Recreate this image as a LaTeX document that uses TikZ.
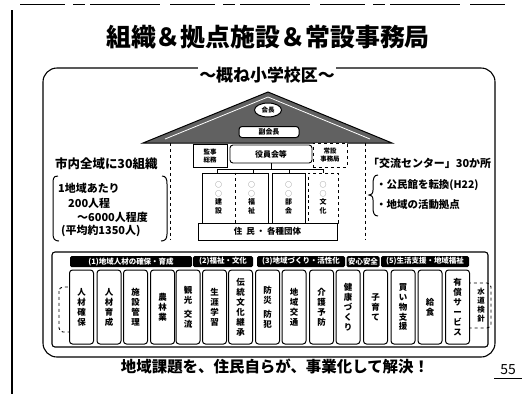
\documentclass[tikz,border=0pt]{standalone}
\usepackage{fontspec}
\setmainfont{Noto Sans CJK JP}
\usetikzlibrary{shapes.geometric}
\newcommand{\gcirc}{\textcolor{black!45}{○}}
\begin{document}
\begin{tikzpicture}[x=1bp,y=-1bp,
  frame/.style={draw,line width=1.1bp},
  vbox/.style={draw,line width=1bp,rounded corners=3bp,fill=white,minimum width=24bp,minimum height=74bp,inner sep=0pt,align=center,font=\fontsize{8.5}{10}\selectfont\bfseries},
  dbox/.style={draw,dashed,line width=0.9bp,rounded corners=4bp},
  hbar/.style={fill=black,rounded corners=1.5bp,text=white,inner sep=1pt,font=\fontsize{7.5}{8}\selectfont\bfseries,minimum height=11bp},
  hbox/.style={draw,line width=0.9bp,fill=white,inner sep=1pt,align=center,font=\fontsize{6.5}{7.5}\selectfont\bfseries},
  col/.style={draw,line width=1bp,fill=white},
  ctext/.style={align=center,font=\fontsize{7}{8.5}\selectfont\bfseries},
  lbl/.style={font=\fontsize{11}{12}\selectfont\bfseries,anchor=west,inner sep=0pt}
]
\useasboundingbox (0,0) rectangle (526,394);
% slide borders
\draw[line width=0.7bp,dash pattern=on 45bp off 8bp on 12bp off 5bp on 70bp off 10bp] (20,4) -- (505,4);
\draw[line width=1.1bp] (12,10) -- (12,394);
% title
\node[font=\fontsize{25}{27}\selectfont\bfseries] (title) at (268,37) {組織＆拠点施設＆常設事務局};
% outer frame
\draw[frame,rounded corners=14bp] (43,68) rectangle (495,357);
\node[font=\fontsize{17}{18}\selectfont\bfseries,fill=white,inner sep=1pt] (sub) at (267,75) {〜概ね小学校区〜};
% house walls
\draw[dashed,line width=0.9bp] (170,143) -- (170,240);
\draw[dashed,line width=0.9bp] (365,143) -- (365,240);
% roof
\path[fill=black!62,draw=black,line width=1bp] (143,143) -- (268,92) -- (392,143) -- cycle;
\draw[white,line width=0.8bp] (165,139) -- (268,97) -- (370,139);
\node[draw,ellipse,fill=white,line width=1bp,inner sep=0.5pt,minimum width=27bp,minimum height=14bp,font=\fontsize{6.5}{7}\selectfont\bfseries] (kaicho) at (268,110) {会長};
\node[draw,rounded corners=3bp,fill=white,line width=1bp,minimum width=60bp,minimum height=11bp,inner sep=0pt,font=\fontsize{7}{8}\selectfont\bfseries] (fuku) at (269,132) {副会長};
% under roof boxes
\node[hbox,minimum width=34bp,minimum height=23bp] (kanji) at (210,156) {監事\\総務};
\node[hbox,rounded corners=3bp,minimum width=82bp,minimum height=18bp,font=\fontsize{8}{9}\selectfont\bfseries] (yakuin) at (271,154) {役員会等};
\node[hbox,dashed,minimum width=34bp,minimum height=24bp] (jimu) at (330,155) {常設\\事務局};
% column boxes
\node[col,minimum width=66bp,minimum height=50bp,inner sep=0pt] (colA) at (235,198) {};
\node[col,minimum width=33bp,minimum height=50bp,inner sep=0pt] (colB) at (288.5,198) {};
\node[col,dashed,minimum width=30bp,minimum height=50bp,inner sep=0pt] (colC) at (323,198) {};
\draw[dashed,line width=0.7bp] (colA.north) -- (colA.south);
\node[ctext] (tA1) at (218.5,198) {\gcirc\\\gcirc\\建\\設};
\node[ctext] (tA2) at (251.5,198) {\gcirc\\\gcirc\\福\\祉};
\node[ctext] (tB) at (colB) {\gcirc\\\gcirc\\部\\会};
\node[ctext] (tC) at (colC) {\gcirc\\\gcirc\\文\\化};
% connectors
\coordinate (j) at (271,169);
\draw[line width=0.9bp] (yakuin.south) -- (j);
\draw[line width=0.9bp] (217,169) -- (323,169);
\draw[line width=0.9bp] (217,169) -- (217,173);
\draw[line width=0.9bp] (253,169) -- (253,173);
\draw[line width=0.9bp] (289,169) -- (289,173);
\draw[line width=0.9bp] (323,169) -- (323,173);
% residents
\node[draw,line width=1bp,fill=white,minimum width=139bp,minimum height=17bp,inner sep=0pt,font=\fontsize{8.5}{9}\selectfont\bfseries] (jumin) at (267.5,231.5) {住\ \ 民\ ・\ 各種団体};
% left text
\node[lbl,font=\fontsize{12.5}{13}\selectfont\bfseries] (l0) at (55,164) {市内全域に30組織};
\node[lbl] (l1) at (58,188) {1地域あたり};
\node[lbl] (l2) at (68,203) {200人程};
\node[lbl] (l3) at (77,217) {〜6000人程度};
\node[lbl] (l4) at (61,231) {(平均約1350人)};
\draw[line width=1bp] (58,176) .. controls (53,176) and (53,179) .. (53,184) -- (53,234) .. controls (53,239) and (55,241) .. (59,241);
\draw[line width=1bp] (162,176) .. controls (166,176) and (167,179) .. (167,184) -- (167,234) .. controls (167,239) and (165,241) .. (161,241);
% right text
\node[lbl] (r0) at (368,163) {「交流センター」30か所};
\node[lbl,font=\fontsize{10.5}{11}\selectfont\bfseries] (r1) at (376,185) {・公民館を転換(H22)};
\node[lbl,font=\fontsize{10.5}{11}\selectfont\bfseries] (r2) at (376,205) {・地域の活動拠点};
\draw[line width=1bp] (378,175) .. controls (374,175) and (373,178) .. (373,185) -- (373,190) .. controls (373,194) and (371,195) .. (369,195) .. controls (371,195) and (373,196) .. (373,200) -- (373,207) .. controls (373,213) and (374,216) .. (378,216);
% bottom panel
\draw[frame,rounded corners=3bp] (52,252) rectangle (488,347);
\node[hbar,minimum width=122bp] (h1) at (131,261.5) {(1)地域人材の確保・育成};
\node[hbar,minimum width=60bp] (h2) at (223,261.5) {(2)福祉・文化};
\node[hbar,minimum width=88bp] (h3) at (301,261.5) {(3)地域づくり・活性化};
\node[hbar,minimum width=33bp] (h4) at (363,261.5) {安心安全};
\node[hbar,minimum width=88bp] (h5) at (425,261.5) {(5)生活支援・地域福祉};
\draw[dbox] (59,287) rectangle (80,332);
\draw[dbox] (460,283) rectangle (491,328);
\node[font=\fontsize{7.5}{9}\selectfont\bfseries,align=center] (sui) at (481,305.5) {水\\道\\検\\針};
\node[vbox] (b1) at (81.5,307) {人\\材\\確\\保};
\node[vbox] (b2) at (109,307) {人\\材\\育\\成};
\node[vbox] (b3) at (135.5,307) {施\\設\\管\\理};
\node[vbox] (b4) at (162.5,307) {農\\林\\業};
\node[vbox] (b5) at (188,307) {観\\光\\[4bp]交\\流};
\node[vbox] (b6) at (214.5,307) {生\\涯\\学\\習};
\node[vbox] (b7) at (240.5,307) {伝\\統\\文\\化\\継\\承};
\node[vbox] (b8) at (267.5,307) {防\\災\\[4bp]防\\犯};
\node[vbox] (b9) at (294,307) {地\\域\\交\\通};
\node[vbox] (b10) at (321.5,307) {介\\護\\予\\防};
\node[vbox] (b11) at (348,307) {健\\康\\づ\\く\\り};
\node[vbox] (b12) at (375.5,307) {子\\育\\て};
\node[vbox] (b13) at (403,307) {買\\い\\物\\支\\援};
\node[vbox] (b14) at (430,307) {給\\食};
\node[vbox] (b15) at (457.5,307) {有\\償\\サ\\ー\\ビ\\ス};
% bottom text
\node[font=\fontsize{15.5}{16}\selectfont\bfseries] (slogan) at (275,367) {地域課題を、住民自らが、事業化して解決！};
\node[font=\fontsize{14}{15}\selectfont] (page) at (508,370) {55};
\draw[line width=1bp] (494,378) -- (522,378);
\end{tikzpicture}
\end{document}
